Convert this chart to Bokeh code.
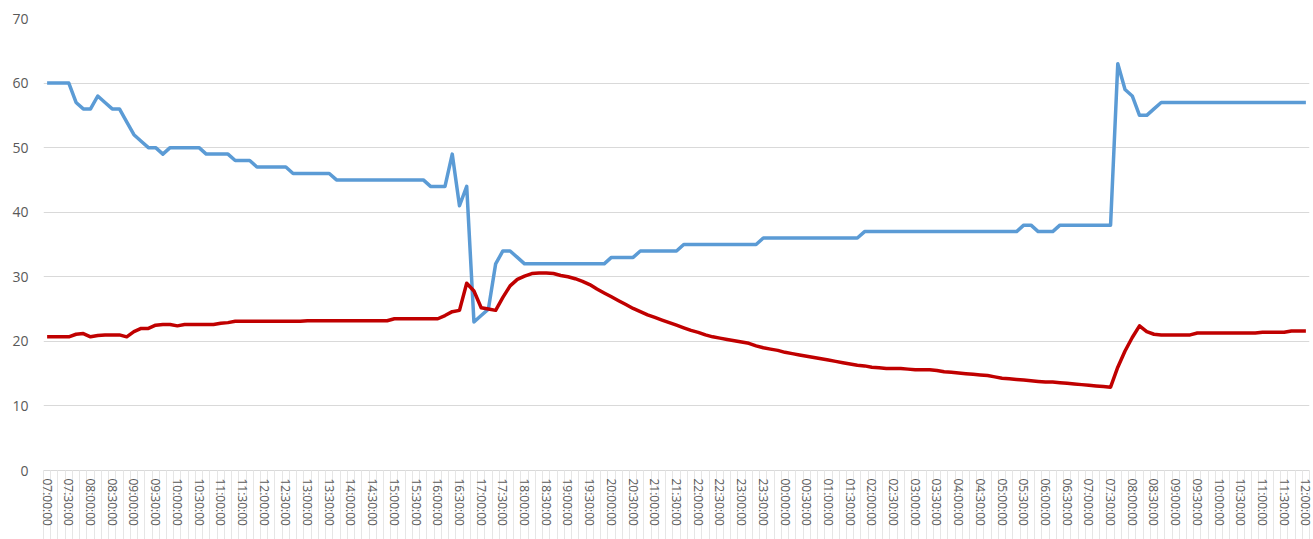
from bokeh.plotting import figure
from bokeh.models import Range1d, FixedTicker
from bokeh.embed import file_html
from bokeh.resources import INLINE

# Time labels on the category axis (every 30 minutes; data every 10 minutes)
tick_labels = [
    "07:00:00", "07:30:00", "08:00:00", "08:30:00", "09:00:00", "09:30:00",
    "10:00:00", "10:30:00", "11:00:00", "11:30:00", "12:00:00", "12:30:00",
    "13:00:00", "13:30:00", "14:00:00", "14:30:00", "15:00:00", "15:30:00",
    "16:00:00", "16:30:00", "17:00:00", "17:30:00", "18:00:00", "18:30:00",
    "19:00:00", "19:30:00", "20:00:00", "20:30:00", "21:00:00", "21:30:00",
    "22:00:00", "22:30:00", "23:00:00", "23:30:00", "00:00:00", "00:30:00",
    "01:00:00", "01:30:00", "02:00:00", "02:30:00", "03:00:00", "03:30:00",
    "04:00:00", "04:30:00", "05:00:00", "05:30:00", "06:00:00", "06:30:00",
    "07:00:00", "07:30:00", "08:00:00", "08:30:00", "09:00:00", "09:30:00",
    "10:00:00", "10:30:00", "11:00:00", "11:30:00", "12:00:00",
]
steps_per_label = 3

blue = [
    60, 60, 60, 60, 57, 56, 56, 58, 57, 56,
    56, 54, 52, 51, 50, 50, 49, 50, 50, 50,
    50, 50, 49, 49, 49, 49, 48, 48, 48, 47,
    47, 47, 47, 47, 46, 46, 46, 46, 46, 46,
    45, 45, 45, 45, 45, 45, 45, 45, 45, 45,
    45, 45, 45, 44, 44, 44, 49, 41, 44, 23,
    24, 25, 32, 34, 34, 33, 32, 32, 32, 32,
    32, 32, 32, 32, 32, 32, 32, 32, 33, 33,
    33, 33, 34, 34, 34, 34, 34, 34, 35, 35,
    35, 35, 35, 35, 35, 35, 35, 35, 35, 36,
    36, 36, 36, 36, 36, 36, 36, 36, 36, 36,
    36, 36, 36, 37, 37, 37, 37, 37, 37, 37,
    37, 37, 37, 37, 37, 37, 37, 37, 37, 37,
    37, 37, 37, 37, 37, 38, 38, 37, 37, 37,
    38, 38, 38, 38, 38, 38, 38, 38, 63, 59,
    58, 55, 55, 56, 57, 57, 57, 57, 57, 57,
    57, 57, 57, 57, 57, 57, 57, 57, 57, 57,
    57, 57, 57, 57, 57,
]

red = [
    20.7, 20.7, 20.7, 20.7, 21.1, 21.2, 20.7, 20.9, 21.0, 21.0,
    21.0, 20.7, 21.5, 22.0, 22.0, 22.5, 22.6, 22.6, 22.4, 22.6,
    22.6, 22.6, 22.6, 22.6, 22.8, 22.9, 23.1, 23.1, 23.1, 23.1,
    23.1, 23.1, 23.1, 23.1, 23.1, 23.1, 23.2, 23.2, 23.2, 23.2,
    23.2, 23.2, 23.2, 23.2, 23.2, 23.2, 23.2, 23.2, 23.5, 23.5,
    23.5, 23.5, 23.5, 23.5, 23.5, 24.0, 24.6, 24.8, 29.0, 27.8,
    25.2, 25.0, 24.8, 26.8, 28.6, 29.6, 30.1, 30.5, 30.6, 30.6,
    30.5, 30.2, 30.0, 29.7, 29.3, 28.8, 28.1, 27.5, 26.9, 26.3,
    25.7, 25.1, 24.6, 24.1, 23.7, 23.3, 22.9, 22.5, 22.1, 21.7,
    21.4, 21.0, 20.7, 20.5, 20.3, 20.1, 19.9, 19.7, 19.3, 19.0,
    18.8, 18.6, 18.3, 18.1, 17.9, 17.7, 17.5, 17.3, 17.1, 16.9,
    16.7, 16.5, 16.3, 16.2, 16.0, 15.9, 15.8, 15.8, 15.8, 15.7,
    15.6, 15.6, 15.6, 15.5, 15.3, 15.2, 15.1, 15.0, 14.9, 14.8,
    14.7, 14.5, 14.3, 14.2, 14.1, 14.0, 13.9, 13.8, 13.7, 13.7,
    13.6, 13.5, 13.4, 13.3, 13.2, 13.1, 13.0, 12.9, 16.0, 18.5,
    20.6, 22.4, 21.5, 21.1, 21.0, 21.0, 21.0, 21.0, 21.0, 21.3,
    21.3, 21.3, 21.3, 21.3, 21.3, 21.3, 21.3, 21.3, 21.4, 21.4,
    21.4, 21.4, 21.6, 21.6, 21.6,
]

y_ticks = [0, 10, 20, 30, 40, 50, 60, 70]

x = list(range(len(blue)))
n = len(blue)

p = figure(
    width=1313, height=539,
    output_backend="svg", toolbar_location=None,
    x_range=Range1d(-0.5, n - 0.5),
    y_range=Range1d(0, 70),
    min_border_left=43, min_border_right=4,
    min_border_top=18, min_border_bottom=69,
)
p.outline_line_color = None
p.background_fill_color = "white"
p.border_fill_color = "white"

p.line(x, blue, line_color="#5B9BD5", line_width=3.5, line_join="round")
p.line(x, red, line_color="#C00000", line_width=3.5, line_join="round")

tick_pos = [i * steps_per_label for i in range(len(tick_labels))]
minor_pos = [i - 0.5 for i in range(n + 1)]

xa = p.xaxis[0]
xa.ticker = FixedTicker(ticks=tick_pos, minor_ticks=minor_pos)
xa.major_label_overrides = {t: lab for t, lab in zip(tick_pos, tick_labels)}
xa.major_label_orientation = "vertical"
xa.major_tick_line_color = None
xa.major_tick_out = 0
xa.major_tick_in = 0
xa.minor_tick_in = 0
xa.minor_tick_out = 69
xa.minor_tick_line_color = "#E6E6E6"
xa.axis_line_color = "#D9D9D9"
xa.major_label_standoff = -61
xa.major_label_text_font = "Open Sans"
xa.major_label_text_font_size = "12px"
xa.major_label_text_color = "#595959"

ya = p.yaxis[0]
ya.ticker = FixedTicker(ticks=y_ticks)
ya.axis_line_color = None
ya.major_tick_line_color = None
ya.minor_tick_line_color = None
ya.major_label_standoff = 9
ya.major_label_text_font = "Open Sans"
ya.major_label_text_font_size = "14px"
ya.major_label_text_color = "#595959"

p.xgrid.visible = False
p.ygrid.ticker = FixedTicker(ticks=y_ticks)
p.ygrid.grid_line_color = "#D9D9D9"
p.ygrid.grid_line_width = 1

open("out.html", "w").write(file_html(p, INLINE))
